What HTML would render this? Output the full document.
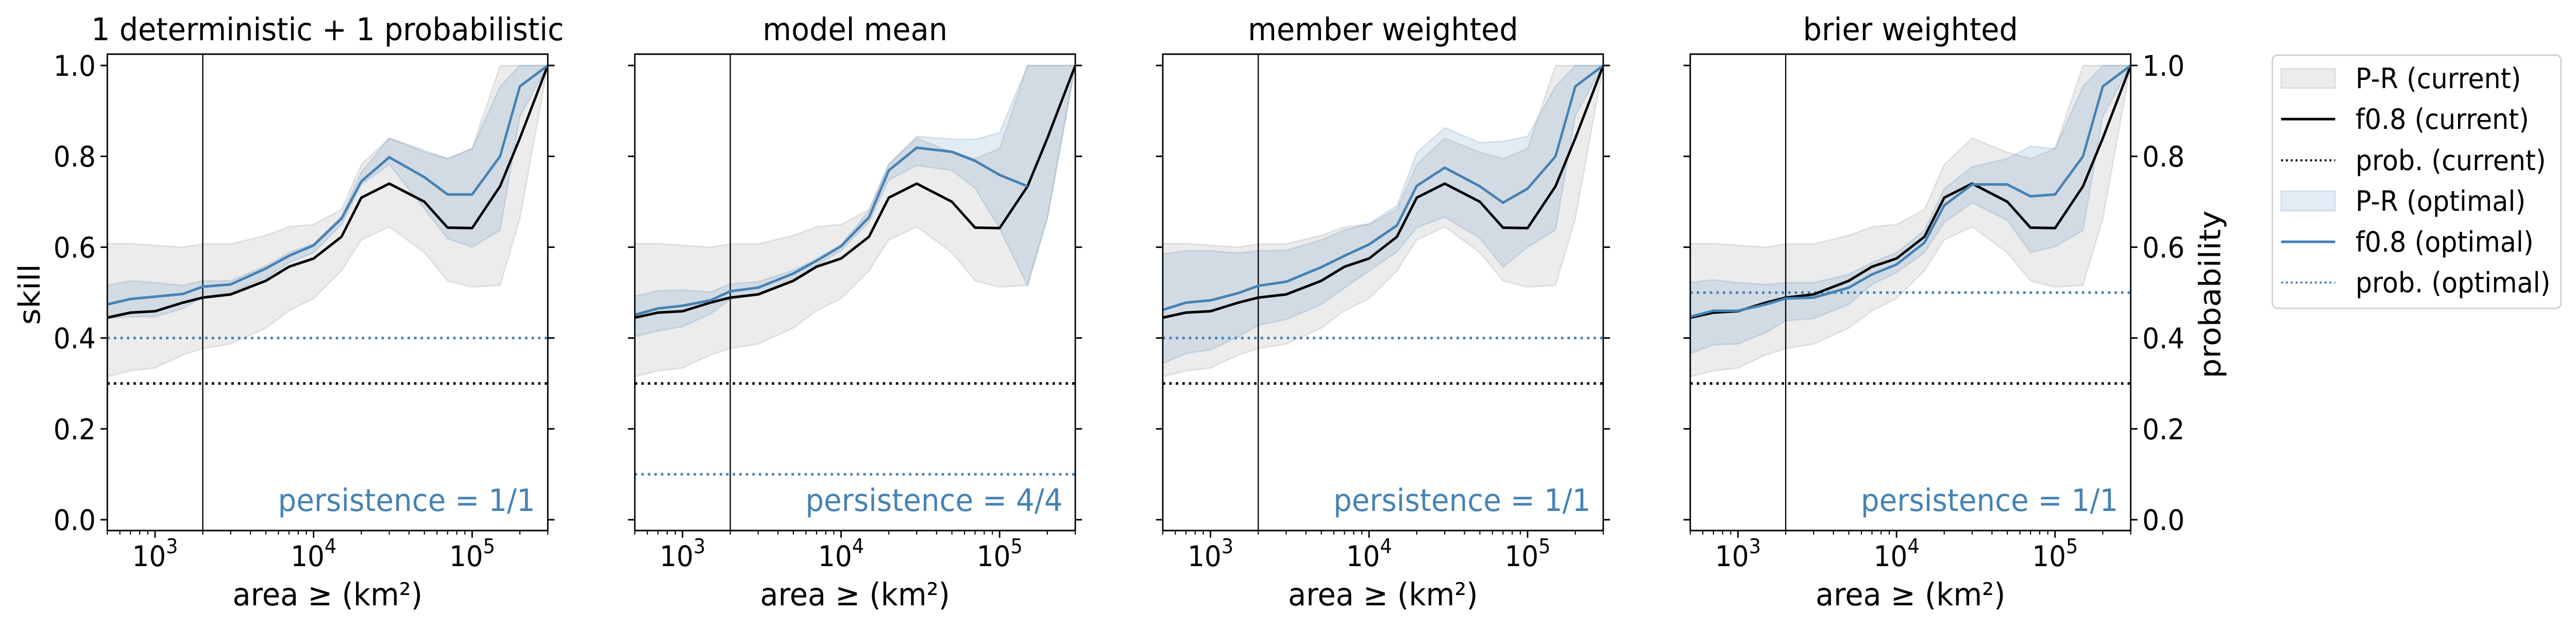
<!DOCTYPE html>
<html><head><meta charset="utf-8">
<style>
html,body{margin:0;padding:0;background:#fff;width:100%;height:100%;overflow:hidden;}
svg{display:block;position:absolute;left:0;top:0;width:100vw;height:100vh;font-family:"DejaVu Sans","Liberation Sans",sans-serif;}
</style></head>
<body>
<svg id="fig" viewBox="0 0 5328 1218" preserveAspectRatio="none" xmlns="http://www.w3.org/2000/svg" overflow="hidden"></svg>
<script>
const areas = [500,700,1000,1500,2000,3000,5000,7000,10000,15000,20000,30000,50000,70000,100000,150000,200000,300000];
const panelTitles = ["1 deterministic + 1 probabilistic","model mean","member weighted","brier weighted"];
const persistenceLabels = ["persistence = 1/1","persistence = 4/4","persistence = 1/1","persistence = 1/1"];
const yTicks = [0,0.2,0.4,0.6,0.8,1.0];
const yTickLabels = ["0.0","0.2","0.4","0.6","0.8","1.0"];
const xTickExps = [3,4,5];
const vlineArea = 2000;
const probCurrent = 0.3;
const probOptimal = [0.4,0.1,0.4,0.5];
const f08Current = [.445,.456,.459,.478,.489,.496,.526,.557,.575,.623,.709,.740,.700,.643,.642,.734,.840,1.0];
const prCurrentUpper = [.608,.608,.604,.600,.607,.607,.626,.645,.650,.683,.782,.840,.809,.795,.817,1,1,1];
const prCurrentLower = [.315,.328,.334,.363,.377,.387,.422,.460,.487,.548,.616,.645,.588,.526,.512,.516,.663,1];
const f08Opt1 = [.474,.486,.491,.497,.513,.518,.553,.581,.604,.663,.745,.798,.754,.716,.716,.800,.954,1];
const prOptUpper1 = [.516,.526,.522,.516,.526,.526,.559,.588,.608,.668,.765,.840,.813,.795,.817,.954,1,1];
const prOptLower1 = [.443,.447,.447,.465,.491,.500,.533,.566,.588,.650,.738,.782,.685,.619,.600,.637,.888,1];
const f08Opt2 = [.451,.465,.471,.483,.503,.511,.542,.570,.602,.666,.769,.819,.810,.790,.759,.734,null,null];
const prOptUpper2 = [.492,.504,.506,.501,.519,.524,.549,.574,.606,.680,.783,.844,.838,.837,.852,1,1,1];
const prOptLower2 = [.403,.416,.425,.453,.485,.496,.528,.560,.592,.656,.748,.780,.769,.730,.641,.515,.666,1];
const f08Opt3 = [.462,.478,.483,.499,.515,.524,.556,.581,.606,.648,.735,.775,.734,.698,.729,.800,.954,1];
const prOptUpper3 = [.585,.592,.592,.587,.592,.593,.616,.638,.652,.691,.808,.863,.830,.833,.844,.954,1,1];
const prOptLower3 = [.344,.366,.374,.403,.428,.441,.474,.510,.548,.590,.643,.666,.620,.556,.600,.638,.890,1];
const f08Opt4 = [.447,.460,.460,.474,.487,.489,.511,.540,.562,.610,.692,.738,.738,.712,.716,.800,.954,1];
const prOptUpper4 = [.522,.528,.522,.518,.522,.522,.540,.566,.588,.637,.729,.777,.795,.822,.817,.954,1,1];
const prOptLower4 = [.366,.385,.387,.412,.438,.443,.474,.518,.544,.588,.654,.698,.659,.588,.601,.637,.888,1];
const f08Opt = [f08Opt1,f08Opt2,f08Opt3,f08Opt4];
const prOptUpper = [prOptUpper1,prOptUpper2,prOptUpper3,prOptUpper4];
const prOptLower = [prOptLower1,prOptLower2,prOptLower3,prOptLower4];
const legendLabels = ["P-R (current)","f0.8 (current)","prob. (current)","P-R (optimal)","f0.8 (optimal)","prob. (optimal)"];

const NS="http://www.w3.org/2000/svg";
const svg=document.getElementById('fig');
const BLUE="#4682b4";
const PL=[222,1313,2405,3496], PW=911, PT=105, PB=1029;
const XMIN=Math.log10(500), XMAX=Math.log10(300000);
function yS(v){return 1008 - v*881;}
function xS(p,a){return PL[p] + (Math.log10(a)-XMIN)/(XMAX-XMIN)*PW;}
function mk(tag,attrs,parent){const e=document.createElementNS(NS,tag);for(const k in attrs)e.setAttribute(k,attrs[k]);(parent||svg).appendChild(e);return e;}

function bandPath(p,up,lo){
  let d="";
  areas.forEach((a,i)=>{d+=(i?"L":"M")+xS(p,a).toFixed(1)+","+yS(up[i]).toFixed(1);});
  for(let i=areas.length-1;i>=0;i--) d+="L"+xS(p,areas[i]).toFixed(1)+","+yS(lo[i]).toFixed(1);
  return d+"Z";
}
function linePath(p,vals){
  let d="",started=false;
  areas.forEach((a,i)=>{if(vals[i]==null)return;d+=(started?"L":"M")+xS(p,a).toFixed(1)+","+yS(vals[i]).toFixed(1);started=true;});
  return d;
}

for(let p=0;p<4;p++){
  const g=mk('g',{});
  
  
  const cid='clip'+p;
  const cp=mk('clipPath',{id:cid},g); mk('rect',{x:PL[p],y:PT,width:PW,height:PB-PT},cp);
  const pg=mk('g',{'clip-path':'url(#'+cid+')'},g);
  const b1=mk('path',{d:bandPath(p,prCurrentUpper,prCurrentLower),fill:"rgba(128,128,128,0.15)",stroke:"rgba(128,128,128,0.18)","stroke-width":3},pg);
  
  
  const b2=mk('path',{d:bandPath(p,prOptUpper[p],prOptLower[p]),fill:"rgba(70,130,180,0.15)",stroke:"rgba(70,130,180,0.18)","stroke-width":3},pg);
  
  
  const vx=xS(p,vlineArea);
  const vl=mk('line',{x1:vx,x2:vx,y1:PT,y2:PB,stroke:"#000","stroke-width":2.5},pg);
  
  
  const d1=mk('line',{x1:PL[p],x2:PL[p]+PW,y1:yS(probCurrent),y2:yS(probCurrent),stroke:"#000","stroke-width":5,"stroke-dasharray":"5 8.5"},pg);
  
  
  const d2=mk('line',{x1:PL[p],x2:PL[p]+PW,y1:yS(probOptimal[p]),y2:yS(probOptimal[p]),stroke:BLUE,"stroke-width":5,"stroke-dasharray":"5 8.5"},pg);
  
  
  const l1=mk('path',{d:linePath(p,f08Current),fill:"none",stroke:"#000","stroke-width":5,"stroke-linejoin":"round"},pg);
  
  
  const l2=mk('path',{d:linePath(p,f08Opt[p]),fill:"none",stroke:BLUE,"stroke-width":5,"stroke-linejoin":"round"},pg);
  
  
  const fr=mk('rect',{x:PL[p],y:PT,width:PW,height:PB-PT,fill:"none",stroke:"#000","stroke-width":3},g);
  
  
  yTicks.forEach((v,i)=>{
    const y=yS(v);
    mk('line',{x1:PL[p]-14,x2:PL[p],y1:y,y2:y,stroke:"#000","stroke-width":3},g);
    mk('line',{x1:PL[p]+PW,x2:PL[p]+PW+14,y1:y,y2:y,stroke:"#000","stroke-width":3},g);
    if(p===0){const t=mk('text',{x:PL[p]-24,y:y+20,"font-size":55,"text-anchor":"end"},g);t.textContent=yTickLabels[i];
      
      }
    if(p===3){const t=mk('text',{x:PL[p]+PW+24,y:y+20,"font-size":55,"text-anchor":"start"},g);t.textContent=yTickLabels[i];
      
      }
  });
  for(let e=2;e<=5;e++){
    for(let m=1;m<=9;m++){
      const a=m*Math.pow(10,e);
      if(a<500||a>300000)continue;
      const x=xS(p,a);
      mk('line',{x1:x,x2:x,y1:PB,y2:PB+(m===1?14:8),stroke:"#000","stroke-width":m===1?3:2.2},g);
    }
  }
  xTickExps.forEach(ex=>{
    const x=xS(p,Math.pow(10,ex));
    const t=mk('text',{x:x,y:1098,"font-size":55,"text-anchor":"middle"},g);
    
    
    t.appendChild(document.createTextNode("10"));
    const s=mk('tspan',{"font-size":39,dy:-25},t); s.textContent=String(ex);
  });
  const tt=mk('text',{x:PL[p]+PW/2,y:78,"font-size":61,"text-anchor":"middle"},g);
  tt.textContent=panelTitles[p];
  
  
  const xl=mk('text',{x:PL[p]+PW/2,y:1174,"font-size":61,"text-anchor":"middle"},g);
  xl.textContent="area ≥ (km²)";
  
  
  const pe=mk('text',{x:PL[p]+PW-26,y:991,"font-size":60,"text-anchor":"end",fill:BLUE},g);
  pe.textContent=persistenceLabels[p];
  
  
}
const yl=mk('text',{x:0,y:0,"font-size":61,"text-anchor":"middle",transform:"translate(82,571) rotate(-90)"});
yl.textContent="skill";


const yr=mk('text',{x:0,y:0,"font-size":61,"text-anchor":"middle",transform:"translate(4592,571) rotate(-90)"});
yr.textContent="probability";



const lg=mk('g',{});


mk('rect',{x:4700,y:107,width:597,height:491,rx:10,fill:"#fff",stroke:"#d0d0d0","stroke-width":3},lg);
const legY=[152,231,311,390,469,548];
legendLabels.forEach((lab,i)=>{
  const y=legY[i];
  const e=mk('g',{},lg);
  
  
  if(i===0) mk('rect',{x:4718,y:y-19,width:112,height:38,fill:"rgba(128,128,128,0.15)",stroke:"rgba(128,128,128,0.18)","stroke-width":3},e);
  if(i===3) mk('rect',{x:4718,y:y-19,width:112,height:38,fill:"rgba(70,130,180,0.15)",stroke:"rgba(70,130,180,0.18)","stroke-width":3},e);
  if(i===1) mk('line',{x1:4718,x2:4830,y1:y,y2:y,stroke:"#000","stroke-width":5},e);
  if(i===4) mk('line',{x1:4718,x2:4830,y1:y,y2:y,stroke:BLUE,"stroke-width":5},e);
  if(i===2) mk('line',{x1:4718,x2:4830,y1:y,y2:y,stroke:"#000","stroke-width":4,"stroke-dasharray":"4 6"},e);
  if(i===5) mk('line',{x1:4718,x2:4830,y1:y,y2:y,stroke:BLUE,"stroke-width":4,"stroke-dasharray":"4 6"},e);
  const t=mk('text',{x:4872,y:y+19,"font-size":54},e);
  t.textContent=lab;
});
</script>
</body></html>
